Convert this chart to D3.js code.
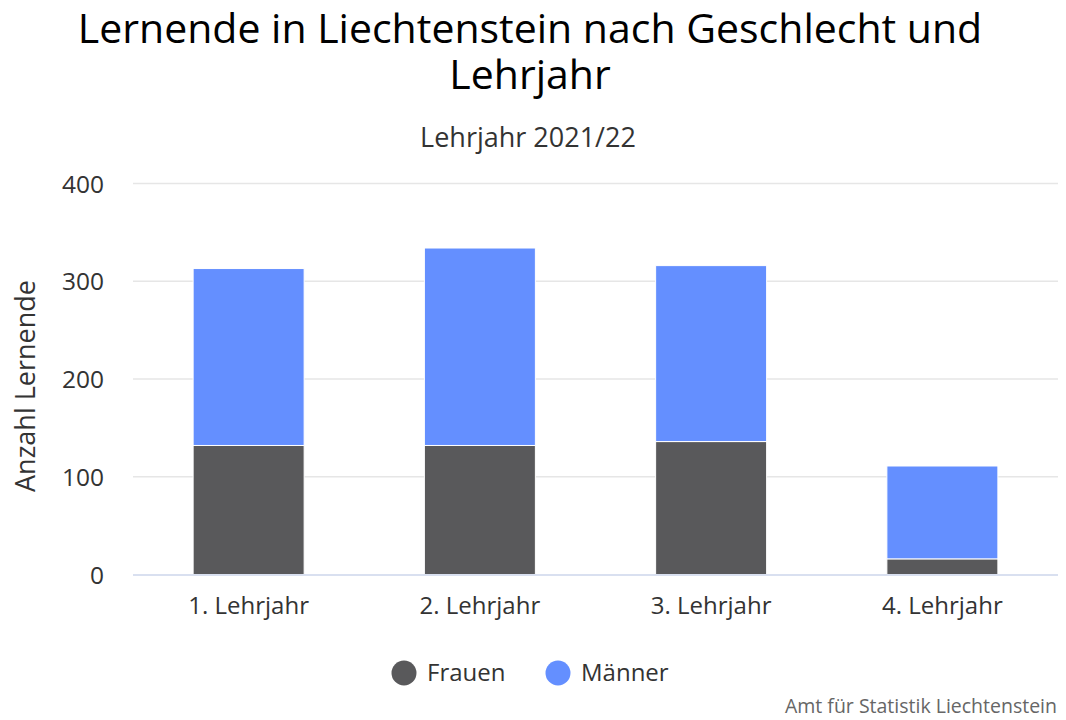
<!DOCTYPE html>
<html><head><meta charset="utf-8">
<script src="https://cdn.jsdelivr.net/npm/d3@7"></script>
<style>body{margin:0;background:#fff;} text{font-family:"Open Sans", sans-serif;}</style>
</head><body>
<svg id="c" width="1066" height="720"></svg>
<script>
const categories = ["1. Lehrjahr", "2. Lehrjahr", "3. Lehrjahr", "4. Lehrjahr"];
const frauen = [132, 132, 136, 16];
const maenner = [181, 202, 180, 95];
const seriesNames = ["Frauen", "Männer"];
const seriesColors = ["#59595b", "#648fff"];
const yTicks = [0, 100, 200, 300, 400];

const FONT = '"Open Sans", sans-serif';
const svg = d3.select("#c");
const W = 1066, H = 720;
const m = {left: 133, right: 1058, top: 183.5, bottom: 574.5};

const x = d3.scaleBand().domain(categories).range([m.left, m.right]).paddingInner(0.52).paddingOuter(0.26);
const y = d3.scaleLinear().domain([0, 400]).range([m.bottom, m.top]);

// title (two lines)
const title = svg.append("text").attr("x", 530).attr("y", 43).attr("text-anchor", "middle")
  .attr("font-size", 41).attr("fill", "#000");
title.append("tspan").attr("x", 530).attr("dy", 0).text("Lernende in Liechtenstein nach Geschlecht und");
title.append("tspan").attr("x", 530).attr("dy", 46).text("Lehrjahr");
svg.append("text").attr("x", 528).attr("y", 147).attr("text-anchor", "middle")
  .attr("font-size", 27).attr("fill", "#333").text("Lehrjahr 2021/22");

// grid
svg.append("g").selectAll("line").data(yTicks.filter(d => d > 0)).join("line")
  .attr("x1", m.left).attr("x2", m.right).attr("y1", d => y(d)).attr("y2", d => y(d))
  .attr("stroke", "#e6e6e6").attr("stroke-width", 1.5);

// y axis labels
const yAxis = d3.axisLeft(y).tickValues(yTicks).tickSize(0).tickPadding(0);
const ya = svg.append("g").attr("transform", `translate(${m.left - 29},0)`).call(yAxis);
ya.select(".domain").remove();
ya.selectAll("text").attr("font-size", 24.5).attr("fill", "#333").attr("font-family", FONT).attr("dy", "0.35em");

svg.append("text").attr("transform", `translate(35,386) rotate(-90)`)
  .attr("text-anchor", "middle").attr("font-size", 27).attr("fill", "#333").text("Anzahl Lernende");

// stacked bars
const rows = categories.map((c, i) => ({cat: c, Frauen: frauen[i], "Männer": maenner[i]}));
const stack = d3.stack().keys(seriesNames)(rows);
const color = d3.scaleOrdinal().domain(seriesNames).range(seriesColors);

svg.append("g").selectAll("g").data(stack).join("g").attr("fill", d => color(d.key))
  .selectAll("rect").data(d => d).join("rect")
  .attr("x", d => x(d.data.cat)).attr("width", x.bandwidth())
  .attr("y", d => y(d[1])).attr("height", d => y(d[0]) - y(d[1]))
  .attr("stroke", "#fff").attr("stroke-width", 1);

// x axis
svg.append("line").attr("x1", m.left).attr("x2", m.right).attr("y1", y(0) + 0.5).attr("y2", y(0) + 0.5)
  .attr("stroke", "#ccd6eb").attr("stroke-width", 1.5);
const xAxis = d3.axisBottom(x).tickSize(0).tickPadding(0);
const xa = svg.append("g").attr("transform", `translate(0,${m.bottom})`).call(xAxis);
xa.select(".domain").remove();
xa.selectAll("text").attr("font-size", 24).attr("fill", "#333").attr("font-family", FONT).attr("y", 39).attr("dy", 0);

// legend
const legX = [404, 558];
const leg = svg.append("g").selectAll("g").data(seriesNames).join("g")
  .attr("transform", (d, i) => `translate(${legX[i]},673)`);
leg.append("circle").attr("r", 12.5).attr("fill", d => color(d));
leg.append("text").attr("x", 23).attr("y", 0).attr("dy", "0.35em").attr("font-size", 24).attr("fill", "#333").text(d => d);

// credits
svg.append("text").attr("x", 1057).attr("y", 713).attr("text-anchor", "end")
  .attr("font-size", 19.5).attr("fill", "#666").text("Amt für Statistik Liechtenstein");
</script>
</body></html>
